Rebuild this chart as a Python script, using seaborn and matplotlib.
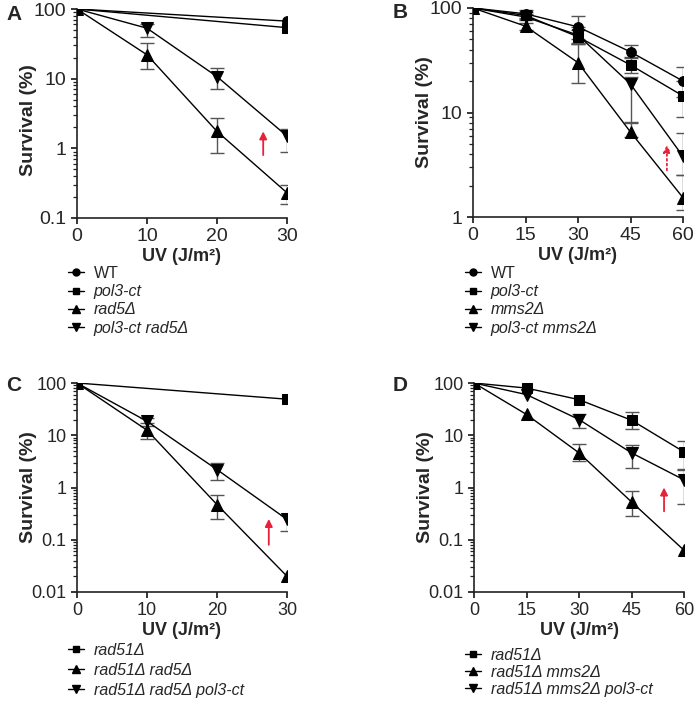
import numpy as np
import pandas as pd
import matplotlib
matplotlib.use("Agg")
import matplotlib.pyplot as plt
from matplotlib.ticker import LogLocator, NullFormatter
import seaborn as sns

sns.set_style("ticks")
plt.rcParams['font.family'] = ['Liberation Sans', 'DejaVu Sans']

# ---------------- data ----------------
# Panel A  (UV 0,10,20,30)
a_x_short = [0, 30]
a_x = [0, 10, 20, 30]
a_wt = [100, 67]
a_pol3 = [100, 54]
a_rad5 = [100, 22, 1.75, 0.23]
a_rad5_lo = [np.nan, 13.8, 0.85, 0.16]
a_rad5_hi = [np.nan, 32, 2.7, 0.30]
a_pr = [100, 53, 10.7, 1.5]
a_pr_lo = [np.nan, 40, 7.0, 0.9]
a_pr_hi = [np.nan, 60, 14, 1.9]

# Panel B (UV 0,15,30,45,60)
b_x = [0, 15, 30, 45, 60]
b_wt = [100, 88, 66, 38, 20]
b_wt_lo = [np.nan, 80, 50, 33, 14]
b_wt_hi = [np.nan, 95, 84, 44, 27]
b_pol3 = [100, 85, 53, 28.5, 14.4]
b_pol3_lo = [np.nan, 78, 45, 24, 9]
b_pol3_hi = [np.nan, 92, 62, 34, 20]
b_mms2 = [100, 67, 30, 6.5, 1.53]
b_mms2_lo = [np.nan, 62, 19, 5.8, 1.17]
b_mms2_hi = [np.nan, 72, 45, 7.9, 2.5]
b_pm = [100, 82, 55, 18.7, 3.8]
b_pm_lo = [np.nan, 76, 46, 8.1, 2.5]
b_pm_hi = [np.nan, 88, 66, 22, 6.3]

# Panel C (UV 0,10,20,30)
c_x_short = [0, 30]
c_x = [0, 10, 20, 30]
c_r51 = [100, 49]
c_r51r5 = [100, 12.5, 0.47, 0.02]
c_r51r5_lo = [np.nan, 8.5, 0.25, np.nan]
c_r51r5_hi = [np.nan, 17.2, 0.73, np.nan]
c_r51r5p = [100, 18.5, 2.2, 0.245]
c_r51r5p_lo = [np.nan, 15, 1.4, 0.145]
c_r51r5p_hi = [np.nan, 21, 3.0, 0.30]

# Panel D (UV 0,15,30,45,60)
d_x = [0, 15, 30, 45, 60]
d_r51 = [100, 80, 48, 19.4, 4.8]
d_r51_lo = [np.nan, np.nan, np.nan, 13, 2.3]
d_r51_hi = [np.nan, np.nan, np.nan, 27.5, 7.7]
d_r51m = [100, 25, 4.6, 0.53, 0.063]
d_r51m_lo = [np.nan, np.nan, 3.2, 0.28, np.nan]
d_r51m_hi = [np.nan, np.nan, 6.8, 0.85, np.nan]
d_r51mp = [100, 60, 20, 4.6, 1.4]
d_r51mp_lo = [np.nan, np.nan, 14, 2.4, 0.49]
d_r51mp_hi = [np.nan, np.nan, 25, 6.4, 2.2]

# red arrows (x, y_start, y_end)
arrow_a = (26.6, 0.8, 1.75)
arrow_b = (55.4, 2.8, 4.9)
arrow_c = (27.4, 0.08, 0.25)
arrow_d = (54.3, 0.35, 1.0)

# ---------------- drawing ----------------
W, H = 694, 701
fig = plt.figure(figsize=(W / 100, H / 100), dpi=100)

def axes_px(l, t, r, b):
    return fig.add_axes([l / W, 1 - b / H, (r - l) / W, (b - t) / H])

axA = axes_px(77, 9, 287, 218)
axB = axes_px(473, 8, 683, 217)
axC = axes_px(77, 383, 287, 592)
axD = axes_px(474, 383, 684, 592)

MS = {'o': 7, 's': 7, '^': 9, 'v': 9}
ERR_C = '#555555'

def series(ax, x, y, marker, label, lo=None, hi=None):
    df = pd.DataFrame({'x': x, 'y': y})
    sns.lineplot(data=df, x='x', y='y', ax=ax, color='black', lw=1,
                 marker=marker, markersize=MS[marker], markeredgecolor='black',
                 markerfacecolor='black', label=label, zorder=3, legend=False)
    if lo is not None:
        yarr = np.array(y, float)
        lo = np.array(lo, float)
        hi = np.array(hi, float)
        m = ~np.isnan(lo)
        ax.errorbar(np.array(x)[m], yarr[m],
                    yerr=[yarr[m] - lo[m], hi[m] - yarr[m]],
                    fmt='none', ecolor=ERR_C, elinewidth=1, capsize=5,
                    capthick=1, zorder=2)

def style(ax, xt, ylim, yticks, yticklabels, fs, ylab_y=0.5):
    ax.set_yscale('log')
    ax.set_xlim(xt[0], xt[-1])
    ax.set_ylim(*ylim)
    ax.set_xticks(xt)
    ax.set_xticklabels([str(v) for v in xt], fontsize=fs)
    ax.set_yticks(yticks)
    ax.set_yticklabels(yticklabels, fontsize=fs)
    ax.yaxis.set_minor_locator(LogLocator(base=10, subs=np.arange(2, 10), numticks=20))
    ax.yaxis.set_minor_formatter(NullFormatter())
    ax.tick_params(axis='both', which='major', length=4.5, width=1.1, direction='out',
                   pad=3, color='black')
    ax.tick_params(axis='y', which='minor', left=True, length=2.8, width=0.9,
                   direction='out', color='#222222')
    ax.tick_params(axis='x', which='minor', bottom=False)
    for s in ['top', 'right']:
        ax.spines[s].set_visible(False)
    for s in ['left', 'bottom']:
        ax.spines[s].set_linewidth(1.2)
        ax.spines[s].set_color('#222222')
    ax.set_xlabel('UV (J/m²)', fontsize=13, fontweight='bold', labelpad=2)
    ax.set_ylabel('Survival (%)', fontsize=14, fontweight='bold')
    ax.yaxis.set_label_coords(-0.19, ylab_y)

def arrow(ax, a, dotted=False):
    x, y0, y1 = a
    ax.annotate('', xy=(x, y1), xytext=(x, y0),
                arrowprops=dict(arrowstyle='-|>', color='#e8213a', lw=1.3,
                                linestyle=':' if dotted else '-',
                                mutation_scale=11, shrinkA=0, shrinkB=0))

def legend(ax, x_px, y_px, items, spacing=0.2):
    handles = [plt.Line2D([], [], color='black', lw=1, marker=m,
                          markersize=6 if m in '^v' else 5, markerfacecolor='black',
                          markeredgecolor='black') for m, _ in items]
    labels = [l for _, l in items]
    leg = fig.legend(handles, labels, loc='upper left',
                     bbox_to_anchor=(x_px / W, 1 - y_px / H),
                     frameon=False, fontsize=11.5, handlelength=1.0,
                     handletextpad=0.6, labelspacing=spacing, borderpad=0,
                     borderaxespad=0)
    for t, (_, l) in zip(leg.get_texts(), items):
        if l != 'WT':
            t.set_fontstyle('italic')
    return leg

# Panel A
series(axA, a_x_short, a_wt, 'o', 'WT')
series(axA, a_x_short, a_pol3, 's', 'pol3-ct')
series(axA, a_x, a_rad5, '^', 'rad5Δ', a_rad5_lo, a_rad5_hi)
series(axA, a_x, a_pr, 'v', 'pol3-ct rad5Δ', a_pr_lo, a_pr_hi)
style(axA, [0, 10, 20, 30], (0.1, 100), [0.1, 1, 10, 100], ['0.1', '1', '10', '100'], 14, 0.47)
arrow(axA, arrow_a)

# Panel B
series(axB, b_x, b_wt, 'o', 'WT', b_wt_lo, b_wt_hi)
series(axB, b_x, b_pol3, 's', 'pol3-ct', b_pol3_lo, b_pol3_hi)
series(axB, b_x, b_mms2, '^', 'mms2Δ', b_mms2_lo, b_mms2_hi)
series(axB, b_x, b_pm, 'v', 'pol3-ct mms2Δ', b_pm_lo, b_pm_hi)
style(axB, [0, 15, 30, 45, 60], (1, 100), [1, 10, 100], ['1', '10', '100'], 14)
arrow(axB, arrow_b, dotted=True)

# Panel C
series(axC, c_x_short, c_r51, 's', 'rad51Δ')
series(axC, c_x, c_r51r5, '^', 'rad51Δ rad5Δ', c_r51r5_lo, c_r51r5_hi)
series(axC, c_x, c_r51r5p, 'v', 'rad51Δ rad5Δ pol3-ct', c_r51r5p_lo, c_r51r5p_hi)
style(axC, [0, 10, 20, 30], (0.01, 100), [0.01, 0.1, 1, 10, 100],
      ['0.01', '0.1', '1', '10', '100'], 13)
arrow(axC, arrow_c)

# Panel D
series(axD, d_x, d_r51, 's', 'rad51Δ', d_r51_lo, d_r51_hi)
series(axD, d_x, d_r51m, '^', 'rad51Δ mms2Δ', d_r51m_lo, d_r51m_hi)
series(axD, d_x, d_r51mp, 'v', 'rad51Δ mms2Δ pol3-ct', d_r51mp_lo, d_r51mp_hi)
style(axD, [0, 15, 30, 45, 60], (0.01, 100), [0.01, 0.1, 1, 10, 100],
      ['0.01', '0.1', '1', '10', '100'], 13)
arrow(axD, arrow_d)

# Legends
legend(axA, 68, 266, [('o', 'WT'), ('s', 'pol3-ct'), ('^', 'rad5Δ'), ('v', 'pol3-ct rad5Δ')])
legend(axB, 465, 266, [('o', 'WT'), ('s', 'pol3-ct'), ('^', 'mms2Δ'), ('v', 'pol3-ct mms2Δ')])
legend(axC, 68, 643, [('s', 'rad51Δ'), ('^', 'rad51Δ rad5Δ'), ('v', 'rad51Δ rad5Δ pol3-ct')], 0.3)
legend(axD, 465, 648, [('s', 'rad51Δ'), ('^', 'rad51Δ mms2Δ'), ('v', 'rad51Δ mms2Δ pol3-ct')], 0.12)

# Panel letters
for lab, (x, y) in {'A': (14, 15), 'B': (400, 13), 'C': (14, 385), 'D': (400, 385)}.items():
    fig.text(x / W, 1 - y / H, lab, fontsize=15, fontweight='bold', va='center', ha='center')

fig.savefig('out.png', dpi=100)
